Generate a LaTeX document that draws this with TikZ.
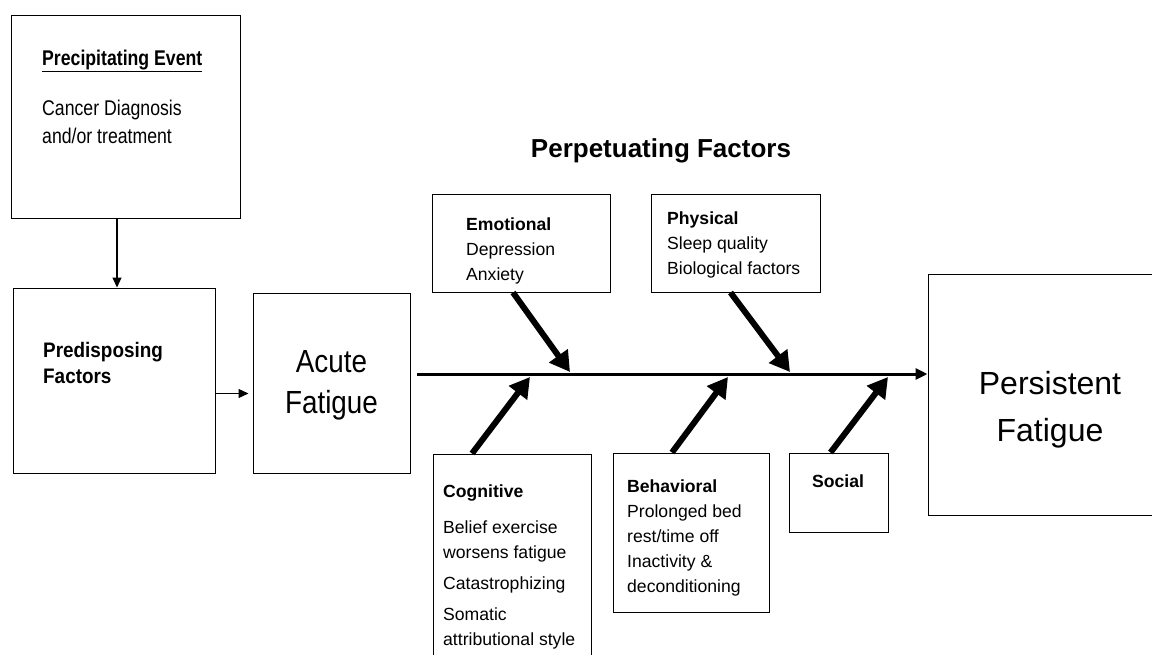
\documentclass[tikz,border=0pt]{standalone}
\usepackage{fontspec}
\setmainfont{Liberation Sans}
\newfontfamily\tallA[FakeStretch=0.83]{Liberation Sans}
\newfontfamily\tallB[FakeStretch=0.9]{Liberation Sans}
\newfontfamily\tallC[FakeStretch=0.87]{Liberation Sans}
\usetikzlibrary{arrows.meta}

\newcommand\txt{\fontsize{17.6}{25}\selectfont}
\tikzset{
  box/.style={draw, line width=1pt, inner sep=0pt},
  lbl/.style={anchor=base west, align=left, inner sep=0pt, font=\txt},
  bone/.style={line width=6pt, -{Triangle[length=20pt,width=22pt]}},
  link/.style={line width=1.2pt, -{Triangle[length=10pt,width=9pt]}},
  spine/.style={line width=3pt, -{Triangle[length=12pt,width=11pt]}}
}

\begin{document}
\begin{tikzpicture}[x=1pt,y=-1pt]
\useasboundingbox (0,0) rectangle (1152,654);
\clip (0,0) rectangle (1152,654);
% boxes
\node[box, minimum width=229pt, minimum height=203pt] (precip) at (125.5,116.5) {};
\node[box, minimum width=202pt, minimum height=185pt] (predisp) at (114,380.5) {};
\node[box, minimum width=157pt, minimum height=180pt] (acute) at (331.5,383) {};
\node[box, minimum width=178pt, minimum height=98pt] (emo) at (521,243) {};
\node[box, minimum width=169pt, minimum height=98pt] (phys) at (735.5,243) {};
\node[box, minimum width=158pt, minimum height=216pt] (cogn) at (512,562) {};
\node[box, minimum width=156pt, minimum height=159pt] (behav) at (691,532.5) {};
\node[box, minimum width=99pt, minimum height=79pt] (social) at (838.5,492.5) {};
\node[box, minimum width=247pt, minimum height=241pt] (persist) at (1051.5,394.5) {};

% texts (base = last line)
\node[lbl, font=\tallA\fontsize{21.3}{28}\selectfont\bfseries] (pehead) at (42,65) {\underline{Precipitating Event}};
\node[lbl, font=\tallA\fontsize{21.3}{28}\selectfont] (petext) at (42,143) {Cancer Diagnosis\\and/or treatment};
\node[lbl, font=\tallB\fontsize{21}{26}\selectfont\bfseries] (pdtext) at (43,383) {Predisposing\\Factors};
\node[align=center, inner sep=0pt, font=\tallC\fontsize{32}{41}\selectfont] (actext) at (331.5,385) {Acute\\Fatigue};
\node[align=center, inner sep=0pt, font=\fontsize{32}{47}\selectfont] (pftext) at (1050,410) {Persistent\\Fatigue};
\node[anchor=base, inner sep=0pt, font=\fontsize{26}{30}\selectfont\bfseries] (title) at (661,157) {Perpetuating Factors};
\node[lbl] (emtext) at (466,280) {\textbf{Emotional}\\Depression\\Anxiety};
\node[lbl] (phtext) at (667,274) {\textbf{Physical}\\Sleep quality\\Biological factors};
\node[lbl] (cgtext) at (443,645) {\textbf{Cognitive}\\[11pt]Belief exercise\\worsens fatigue\\[6pt]Catastrophizing\\[6pt]Somatic\\attributional style};
\node[lbl] (bhtext) at (627,592) {\textbf{Behavioral}\\Prolonged bed\\rest/time off\\Inactivity \&\\deconditioning};
\node[anchor=base, inner sep=0pt, font=\txt\bfseries] (sctext) at (838,487) {Social};

% spine and junctions
\coordinate (s0) at (417,374);
\coordinate (jE) at (570,372);
\coordinate (jP) at (790,372);
\coordinate (jC) at (530,377);
\coordinate (jB) at (728,377);
\coordinate (jS) at (888,377);
\draw[spine] (s0) -- (s0 -| persist.west);

% connectors
\draw[link] ([xshift=3pt]predisp.north |- precip.south) -- ([xshift=3pt]predisp.north);
\draw[link] ([yshift=-13pt]predisp.east) -- ([xshift=-4pt,yshift=-13pt]predisp.east -| acute.west);
\draw[bone] ([xshift=-8pt]emo.south) -- (jE);
\draw[bone] ([xshift=-5pt]phys.south) -- (jP);
\draw[bone] ([xshift=-40pt]cogn.north) -- (jC);
\draw[bone] ([xshift=-19pt]behav.north) -- (jB);
\draw[bone] ([xshift=-8pt]social.north) -- (jS);
\end{tikzpicture}
\end{document}
